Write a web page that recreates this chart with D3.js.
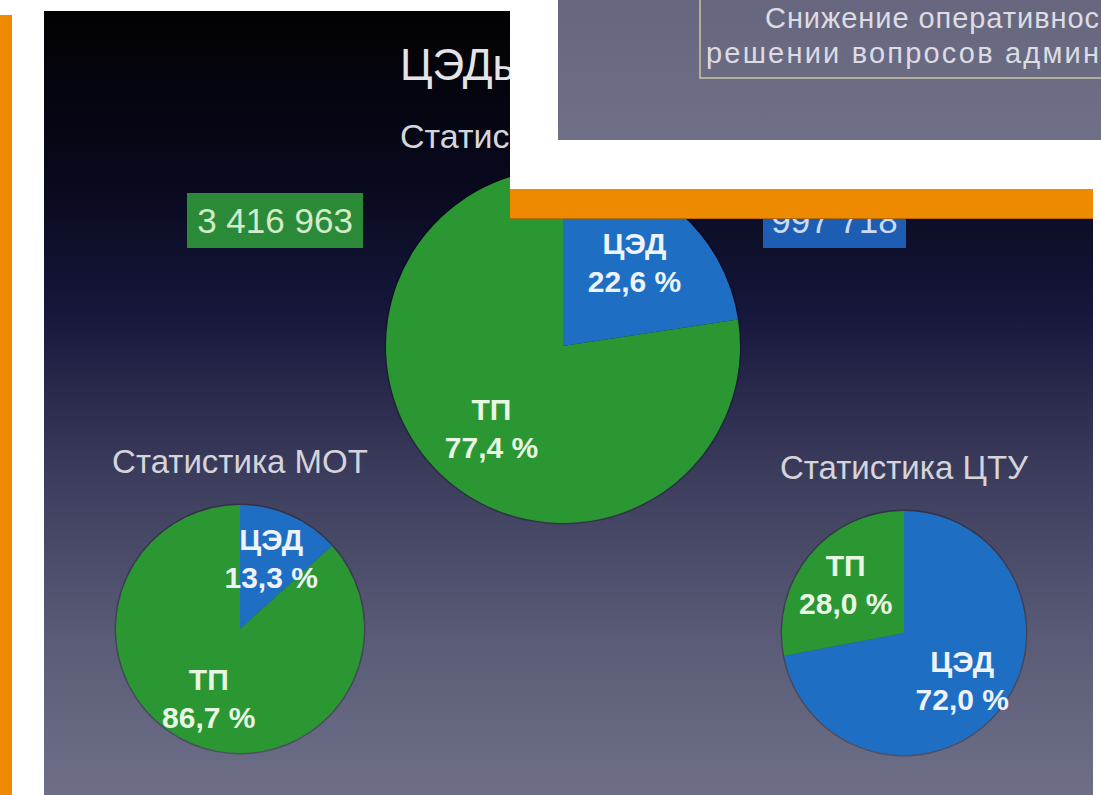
<!DOCTYPE html>
<html>
<head>
<meta charset="utf-8">
<script src="https://cdn.jsdelivr.net/npm/d3@7"></script>
<style>
  body { margin: 0; background: #fff; }
  svg { display: block; }
</style>
</head>
<body>
<svg id="chart"></svg>
<script>
// shares in percent, order follows categories (ЦЭД first, drawn from 12 o'clock)
const categories = ["ЦЭД", "ТП"];
const totalShares = [22.6, 77.4];
const motShares = [13.3, 86.7];
const ctuShares = [72.0, 28.0];
const totalCounts = [997718, 3416963];
const pieTitles = ["Статистика", "Статистика МОТ", "Статистика ЦТУ"];
const slideTitle = "ЦЭДы";
const noteLines = ["Снижение оперативнос", "решении вопросов админ"];

let W = 1101, H = 795;
let svg = d3.select("#chart").attr("width", W).attr("height", H);

let locale = d3.formatLocale({decimal: ",", thousands: " ", grouping: [3], currency: ["", ""]});
let fmtCount = locale.format(",d");
let fmtPct = locale.format(".1f");

let color = d3.scaleOrdinal().domain(categories).range(["#1e6fc4", "#2a9733"]);
let boxColor = d3.scaleOrdinal().domain(categories).range(["#1d5db3", "#2b8a37"]);

let defs = svg.append("defs");
let grad = defs.append("linearGradient").attr("id", "bg").attr("x1", 0).attr("y1", 0).attr("x2", 0).attr("y2", 1);
[[0, "#020203"], [0.2, "#07081a"], [0.38, "#15163a"], [0.58, "#3a3b5b"], [0.8, "#5a5b76"], [1, "#6e6f87"]]
    .forEach(s => grad.append("stop").attr("offset", s[0]).attr("stop-color", s[1]));

// left orange strip
svg.append("rect").attr("x", 0).attr("y", 15).attr("width", 12).attr("height", H - 15).attr("fill", "#ee8a00");

// main slide
let slide = svg.append("g");
slide.append("rect").attr("x", 44).attr("y", 11).attr("width", 1049).attr("height", H - 11).attr("fill", "url(#bg)");

let font = "'Liberation Sans', Arial, sans-serif";

slide.append("text").attr("x", 400).attr("y", 80).attr("font-family", font).attr("font-size", 44)
    .attr("fill", "#e4e4e8").text(slideTitle);
slide.append("text").attr("x", 400).attr("y", 148).attr("font-family", font).attr("font-size", 34)
    .attr("fill", "#d6d6da").text(pieTitles[0]);

// total counts boxes
let boxes = [
    {name: "ТП", x: 187, y: 193, w: 176, h: 55},
    {name: "ЦЭД", x: 763, y: 193, w: 143, h: 55}
];
boxes.forEach(b => {
    let v = totalCounts[categories.indexOf(b.name)];
    slide.append("rect").attr("x", b.x).attr("y", b.y).attr("width", b.w).attr("height", b.h)
        .attr("fill", boxColor(b.name));
    slide.append("text").attr("x", b.x + b.w / 2).attr("y", b.y + b.h / 2).attr("dy", "0.36em")
        .attr("text-anchor", "middle").attr("font-family", font).attr("font-size", 35)
        .attr("fill", b.name === "ТП" ? "#d2ebcb" : "#cbd9f2").text(fmtCount(v));
});

function drawPie(values, cx, cy, r, title) {
    let data = categories.map((c, i) => ({name: c, value: values[i]}));
    let pie = d3.pie().sort(null).value(d => d.value);
    let arc = d3.arc().innerRadius(0).outerRadius(r);
    let labelArc = d3.arc().innerRadius(r * 0.62).outerRadius(r * 0.62);

    let g = slide.append("g").attr("transform", "translate(" + cx + "," + cy + ")");
    g.append("circle").attr("r", r + 1.5).attr("fill", "rgba(0,0,0,0.25)");

    let arcs = pie(data);
    g.selectAll("path").data(arcs).enter().append("path")
        .attr("d", arc)
        .attr("fill", d => color(d.data.name));

    let lbl = g.selectAll("g.lbl").data(arcs).enter().append("g")
        .attr("class", "lbl")
        .attr("transform", d => "translate(" + labelArc.centroid(d) + ")")
        .attr("font-family", font).attr("font-weight", "bold").attr("font-size", 30)
        .attr("text-anchor", "middle")
        .attr("fill", d => d.data.name === "ТП" ? "#e9f6e4" : "#eef3fb");
    lbl.append("text").attr("y", -9).text(d => d.data.name);
    lbl.append("text").attr("y", 29).text(d => fmtPct(d.data.value) + " %");

    if (title) {
        slide.append("text").attr("x", cx).attr("y", cy - r - 32).attr("text-anchor", "middle")
            .attr("font-family", font).attr("font-size", 33).attr("fill", "#d4d4da").text(title);
    }
}

drawPie(totalShares, 563, 346, 177, null);
drawPie(motShares, 240, 629, 124, pieTitles[1]);
drawPie(ctuShares, 904, 633, 122, pieTitles[2]);

// overlapping screenshot in the top right
svg.append("rect").attr("x", 510).attr("y", 0).attr("width", W - 510).attr("height", 189).attr("fill", "#ffffff");
let panel = svg.append("g");
let pgrad = defs.append("linearGradient").attr("id", "pg").attr("x1", 0).attr("y1", 0).attr("x2", 0).attr("y2", 1);
pgrad.append("stop").attr("offset", 0).attr("stop-color", "#66677f");
pgrad.append("stop").attr("offset", 1).attr("stop-color", "#6f7088");
panel.append("rect").attr("x", 558).attr("y", 0).attr("width", W - 558).attr("height", 140).attr("fill", "url(#pg)");
panel.append("path").attr("d", "M700,0V78H" + W).attr("fill", "none")
    .attr("stroke", "#c9c6a6").attr("stroke-width", 1.5);
panel.selectAll("text.note").data(noteLines).enter().append("text")
    .attr("x", (d, i) => i === 0 ? 765 : 706)
    .attr("y", (d, i) => 28 + i * 35)
    .attr("font-family", font)
    .attr("font-size", 29)
    .attr("textLength", (d, i) => i === 0 ? 334 : 393).attr("lengthAdjust", "spacing")
    .attr("fill", "#dcdce2")
    .text(d => d);

// orange band
svg.append("rect").attr("x", 510).attr("y", 189).attr("width", 583).attr("height", 30).attr("fill", "#ee8a00");
svg.append("line").attr("x1", 510).attr("x2", 1093).attr("y1", 218.5).attr("y2", 218.5)
    .attr("stroke", "#b86a00").attr("stroke-width", 1);
</script>
</body>
</html>
